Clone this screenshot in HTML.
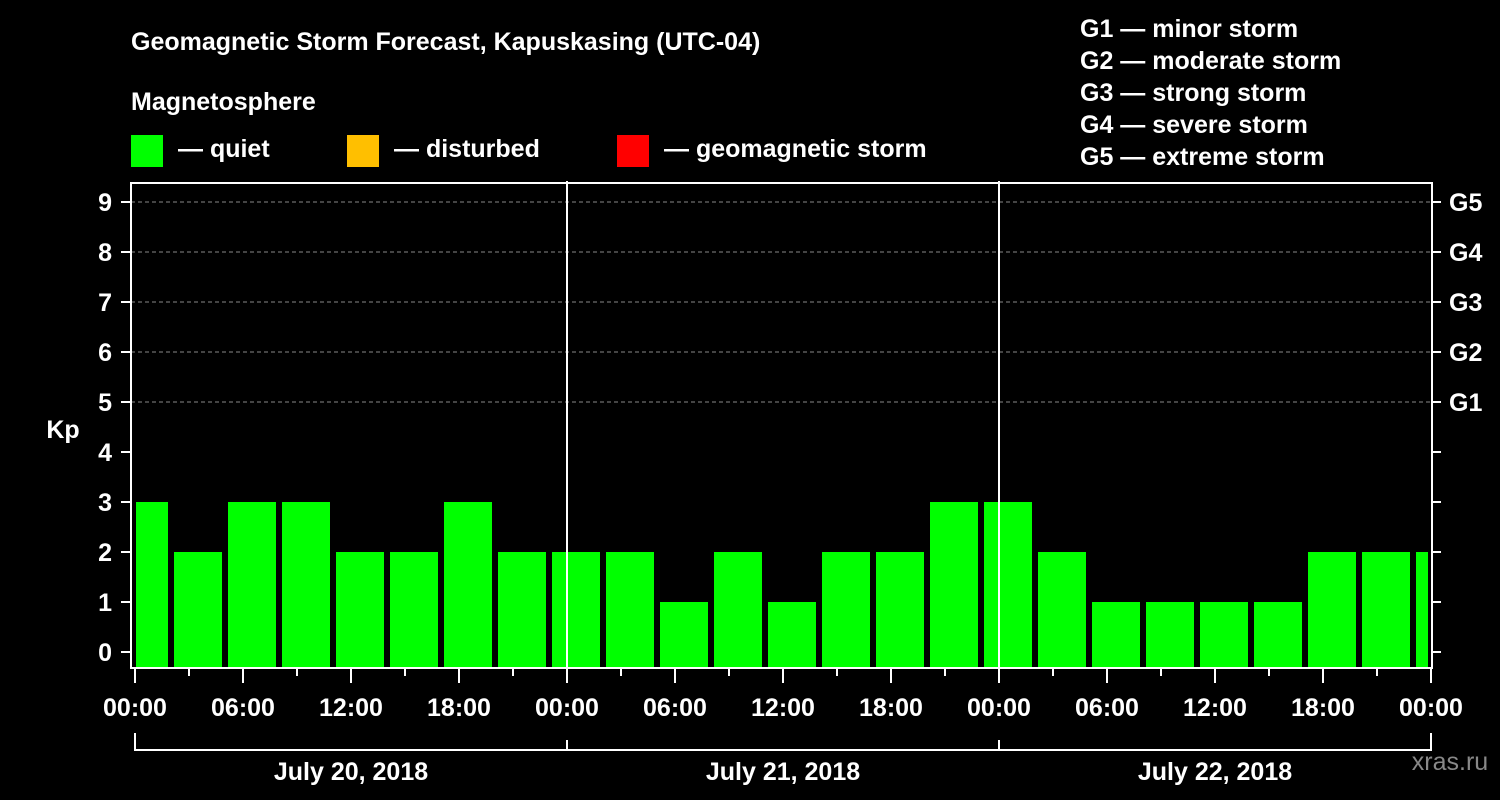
<!DOCTYPE html>
<html><head><meta charset="utf-8"><style>
html,body{margin:0;padding:0;background:#000;}
svg{display:block;font-family:"Liberation Sans",Arial,sans-serif;font-weight:bold;}
</style></head><body>
<svg id="chart" width="1500" height="800" viewBox="0 0 1500 800">
<rect width="1500" height="800" fill="#000"/>
<text x="131" y="50" fill="#fff" font-size="25">Geomagnetic Storm Forecast, Kapuskasing (UTC-04)</text>
<text x="131" y="110" fill="#fff" font-size="25">Magnetosphere</text>
<g><rect x="131" y="135" width="32" height="32" fill="#00ff00"/><text x="178" y="157" fill="#fff" font-size="25">— quiet</text></g>
<g><rect x="347" y="135" width="32" height="32" fill="#ffbf00"/><text x="394" y="157" fill="#fff" font-size="25">— disturbed</text></g>
<g><rect x="617" y="135" width="32" height="32" fill="#ff0000"/><text x="664" y="157" fill="#fff" font-size="25">— geomagnetic storm</text></g>
<g fill="#fff" font-size="25">
<text x="1080" y="37">G1 — minor storm</text>
<text x="1080" y="69">G2 — moderate storm</text>
<text x="1080" y="101">G3 — strong storm</text>
<text x="1080" y="133">G4 — severe storm</text>
<text x="1080" y="165">G5 — extreme storm</text>
</g>
<text x="63" y="438" fill="#fff" font-size="25" text-anchor="middle">Kp</text>
<text x="1450" y="770" fill="#888" font-size="25" font-weight="normal" text-anchor="middle">xras.ru</text>
<g id="grid"></g><g id="bars"></g><g id="axes"></g>
</svg>
<script>
const kpValues = [3,2,3,3,2,2,3,2, 2,2,1,2,1,2,2,3, 3,2,1,1,1,1,2,2,2];
const yTicks = [0,1,2,3,4,5,6,7,8,9];
const gLabels = ["G1","G2","G3","G4","G5"];
const gLevels = [5,6,7,8,9];
const hourLabels = ["00:00","06:00","12:00","18:00","00:00","06:00","12:00","18:00","00:00","06:00","12:00","18:00","00:00"];
const dayLabels = ["July 20, 2018","July 21, 2018","July 22, 2018"];

const NS="http://www.w3.org/2000/svg";
const L=131,R=1432,T=183,B=668,X0=135,PXH=18;
const xS=h=>X0+h*PXH;
const yS=v=>652-v*50;
function mk(tag,attrs,parent){const e=document.createElementNS(NS,tag);for(const k in attrs)e.setAttribute(k,attrs[k]);parent.appendChild(e);return e;}
const grid=document.getElementById('grid'),bars=document.getElementById('bars'),axes=document.getElementById('axes');
gLevels.forEach(v=>{
  const l=mk('line',{x1:L,x2:R,y1:yS(v),y2:yS(v),stroke:'#888','stroke-dasharray':'4,3','stroke-width':1},grid);
  
  
});
kpValues.forEach((v,i)=>{
  const c=xS(3*i+0.5);
  let x1=Math.max(c-24,L+5),x2=Math.min(c+24,R-4);
  const col=v>=5?'#ff0000':(v>=4?'#ffbf00':'#00ff00');
  const r=mk('rect',{x:x1,y:yS(v),width:x2-x1,height:B-yS(v),fill:col},bars);
  
  
});
const fr=mk('rect',{x:L,y:T,width:R-L,height:B-T,fill:'none',stroke:'#fff','stroke-width':2},axes);


[1,2].forEach(d=>{
  const l=mk('line',{x1:xS(24*d),x2:xS(24*d),y1:181,y2:B,stroke:'#fff','stroke-width':2},axes);
  
  
});
yTicks.forEach(v=>{
  mk('line',{x1:L-10,x2:L,y1:yS(v),y2:yS(v),stroke:'#fff','stroke-width':2},axes);
  mk('line',{x1:R,x2:R+9,y1:yS(v),y2:yS(v),stroke:'#fff','stroke-width':2},axes);
  const t=mk('text',{x:112,y:yS(v)+9,fill:'#fff','font-size':25,'text-anchor':'end'},axes);
  t.textContent=v;
  
  
});
gLabels.forEach((g,i)=>{
  const t=mk('text',{x:1449,y:yS(gLevels[i])+9,fill:'#fff','font-size':25},axes);
  t.textContent=g;
  
  
});
for(let h=0;h<=72;h+=3){
  const major=h%6===0;
  mk('line',{x1:xS(h),x2:xS(h),y1:B,y2:B+(major?15:8),stroke:'#fff','stroke-width':2},axes);
}
hourLabels.forEach((s,i)=>{
  const t=mk('text',{x:xS(6*i),y:716,fill:'#fff','font-size':25,'text-anchor':'middle'},axes);
  t.textContent=s;
  
  
});
const br=mk('path',{d:`M${xS(0)},733 V750 H${xS(72)} V733`,fill:'none',stroke:'#fff','stroke-width':2},axes);


[1,2].forEach(d=>mk('line',{x1:xS(24*d),x2:xS(24*d),y1:740,y2:750,stroke:'#fff','stroke-width':2},axes));
dayLabels.forEach((s,i)=>{
  const t=mk('text',{x:xS(24*i+12),y:780,fill:'#fff','font-size':25,'text-anchor':'middle'},axes);
  t.textContent=s;
  
  
});
</script>
</body></html>
